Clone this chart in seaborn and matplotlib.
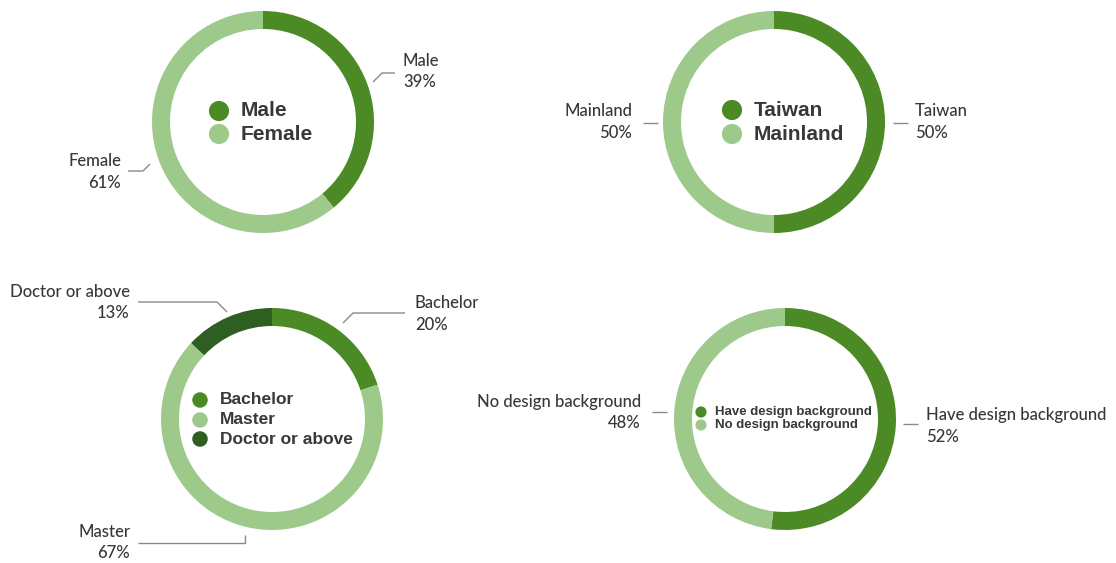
import matplotlib
matplotlib.use("Agg")
import matplotlib.pyplot as plt
import seaborn as sns

# ---- data ----
gender_labels = ["Male", "Female"]
gender_values = [39, 61]
region_labels = ["Taiwan", "Mainland"]
region_values = [50, 50]
edu_labels = ["Bachelor", "Master", "Doctor or above"]
edu_values = [20, 67, 13]
design_labels = ["Have design background", "No design background"]
design_values = [52, 48]

DARK = "#4b8a24"
LIGHT = "#9dc98a"
DEEP = "#2e5e21"
TXT = "#383838"
LINE = "#8a8a8a"

sns.set_theme(style="white")
plt.rcParams["font.family"] = ["Lato", "DejaVu Sans"]

W, H = 1116, 563
fig = plt.figure(figsize=(W / 100, H / 100), dpi=100)
ax = fig.add_axes([0, 0, 1, 1])

def Y(y):
    return H - y

def donut(values, colors, cx, cy, r=111, w=18):
    ax.pie(values, colors=colors, startangle=90, counterclock=False,
           radius=r, center=(cx, Y(cy)), frame=True,
           wedgeprops=dict(width=w, edgecolor="none", linewidth=0))

def legend(labels, colors, x, ys, tx, size, ms):
    for lab, col, yy in zip(labels, colors, ys):
        ax.scatter([x], [Y(yy)], s=ms, color=col, edgecolor="none", zorder=5)
        ax.text(tx, Y(yy), lab, fontsize=size, fontweight="bold", color=TXT,
                family=["Liberation Sans", "DejaVu Sans"], va="center", ha="left")

def label(name, val, x, y1, y2, ha):
    ax.text(x, Y(y1), name, fontsize=12, fontweight="medium", color=TXT, va="center", ha=ha)
    ax.text(x, Y(y2), f"{val}%", fontsize=12, fontweight="medium", color=TXT, va="center", ha=ha)

def leader(xs, ys):
    ax.plot(xs, [Y(v) for v in ys], color=LINE, lw=1.0, solid_capstyle="butt")

# 1. gender
c1 = [DARK, LIGHT]
donut(gender_values, c1, 263, 122)
legend(gender_labels, c1, 219, [111, 134], 241, 15, 210)
label(gender_labels[0], gender_values[0], 403, 61, 82, "left")
leader([373, 382, 395], [82, 73, 73])
label(gender_labels[1], gender_values[1], 121, 161, 183, "right")
leader([128, 143, 150], [171, 171, 164])

# 2. region
donut(region_values, c1, 774, 122)
legend(region_labels, c1, 732, [110, 134], 754, 15, 210)
label(region_labels[0], region_values[0], 915, 111, 133, "left")
leader([893, 908], [123, 123])
label(region_labels[1], region_values[1], 632, 111, 133, "right")
leader([643, 658], [123, 123])

# 3. education
c3 = [DARK, LIGHT, DEEP]
donut(edu_values, c3, 272, 419)
legend(edu_labels, c3, 200, [400, 420, 439], 220, 12.5, 125)
label(edu_labels[0], edu_values[0], 415, 303, 325, "left")
leader([343, 353, 405], [323, 313, 313])
label(edu_labels[1], edu_values[1], 130, 532, 553, "right")
leader([138, 245, 245], [543, 543, 535])
label(edu_labels[2], edu_values[2], 130, 292, 313, "right")
leader([138, 217, 227], [302, 302, 312])

# 4. design background
donut(design_values, c1, 785, 419)
legend(design_labels, c1, 701, [412, 425], 715, 9.5, 65)
label(design_labels[0], design_values[0], 926, 415, 437, "left")
leader([903, 918], [424, 424])
label(design_labels[1], design_values[1], 641, 402, 423, "right")
leader([652, 667], [412, 412])

ax.set_xlim(0, W)
ax.set_ylim(0, H)
ax.set_aspect("equal")
ax.axis("off")

fig.savefig("out.png", dpi=100, facecolor="white")
